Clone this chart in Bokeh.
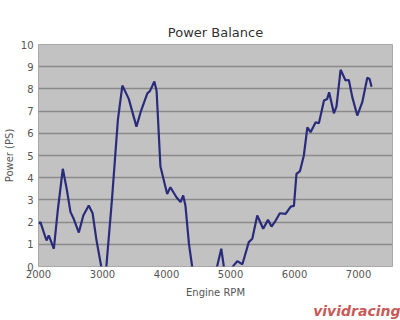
from bokeh.plotting import figure
from bokeh.models import Range1d, Title, FixedTicker
from bokeh.embed import file_html
from bokeh.resources import INLINE

rpm = [2005, 2030, 2125, 2160, 2240, 2300, 2380, 2440, 2500, 2550, 2630, 2700, 2785, 2845,
       2905, 2980, 3015, 3060, 3150, 3240, 3310, 3410, 3530, 3595, 3700, 3740, 3810, 3845,
       3905, 4010, 4060, 4155, 4220, 4260, 4295, 4350, 4400, 4600, 4790, 4855, 4895, 4940,
       5015, 5050, 5105, 5185, 5285, 5340, 5417, 5510, 5585, 5640, 5705, 5770, 5860, 5940,
       5990, 6030, 6085, 6145, 6200, 6250, 6330, 6380, 6460, 6510, 6540, 6614, 6655, 6719,
       6797, 6848, 6902, 6980, 7058, 7136, 7172, 7203]
power = [1.92, 2.0, 1.17, 1.4, 0.8, 2.5, 4.4, 3.5, 2.45, 2.15, 1.53, 2.3, 2.75, 2.4,
         1.2, 0.0, -0.4, 0.0, 3.1, 6.6, 8.15, 7.55, 6.3, 6.95, 7.8, 7.9, 8.33, 7.9,
         4.5, 3.27, 3.57, 3.12, 2.9, 3.2, 2.75, 1.03, 0.0, -1.0, 0.0, 0.8, 0.0, -0.4,
         -0.1, 0.05, 0.24, 0.1, 1.1, 1.25, 2.3, 1.7, 2.1, 1.8, 2.07, 2.4, 2.37, 2.7,
         2.73, 4.17, 4.3, 5.0, 6.27, 6.05, 6.5, 6.45, 7.48, 7.55, 7.85, 6.9, 7.2, 8.86,
         8.38, 8.4, 7.63, 6.8, 7.4, 8.5, 8.45, 8.1]

x_ticks = [2000, 3000, 4000, 5000, 6000, 7000]
y_ticks = list(range(0, 11))

FONT = "DejaVu Sans"

p = figure(width=400, height=320, output_backend="svg", toolbar_location=None,
           x_range=Range1d(2000, 7530), y_range=Range1d(0, 10),
           title="Power Balance",
           min_border_left=38, min_border_right=8, min_border_top=44, min_border_bottom=54)

p.background_fill_color = "#c2c2c2"
p.border_fill_color = "white"
p.outline_line_color = "#a8a8a8"

p.title.align = "center"
p.title.text_font = FONT
p.title.text_font_size = "13px"
p.title.text_font_style = "normal"
p.title.text_color = "#333333"
p.title.standoff = 9

p.line(rpm, power, line_color="#2b2b7c", line_width=2.2)

p.xgrid.grid_line_color = None
p.ygrid.grid_line_color = "#8a8a8a"
p.ygrid.grid_line_width = 1.5
p.ygrid.ticker = FixedTicker(ticks=y_ticks)

p.xaxis.ticker = FixedTicker(ticks=x_ticks)
p.yaxis.ticker = FixedTicker(ticks=y_ticks)
for ax in (p.xaxis[0], p.yaxis[0]):
    ax.axis_line_color = None
    ax.major_tick_line_color = None
    ax.minor_tick_line_color = None
    ax.major_tick_out = 0
    ax.major_tick_in = 0
    ax.minor_tick_out = 0
    ax.minor_tick_in = 0
    ax.major_label_text_font = FONT
    ax.major_label_text_font_size = "10px"
    ax.major_label_text_color = "#555555"
    ax.axis_label_text_font = FONT
    ax.axis_label_text_font_size = "10px"
    ax.axis_label_text_font_style = "normal"
    ax.axis_label_text_color = "#555555"

p.xaxis.major_label_standoff = 3
p.xaxis.axis_label_standoff = 6
p.yaxis.major_label_standoff = 5
p.yaxis.axis_label_standoff = 3

p.xaxis.axis_label = "Engine RPM"
p.yaxis.axis_label = "Power (PS)"

wm = Title(text="vividracing", align="right", text_font=FONT, text_font_size="14px",
           text_font_style="bold italic", text_color="#c85a5a", standoff=0, offset=-8)
p.add_layout(wm, "below")

open("out.html", "w").write(file_html(p, INLINE))
